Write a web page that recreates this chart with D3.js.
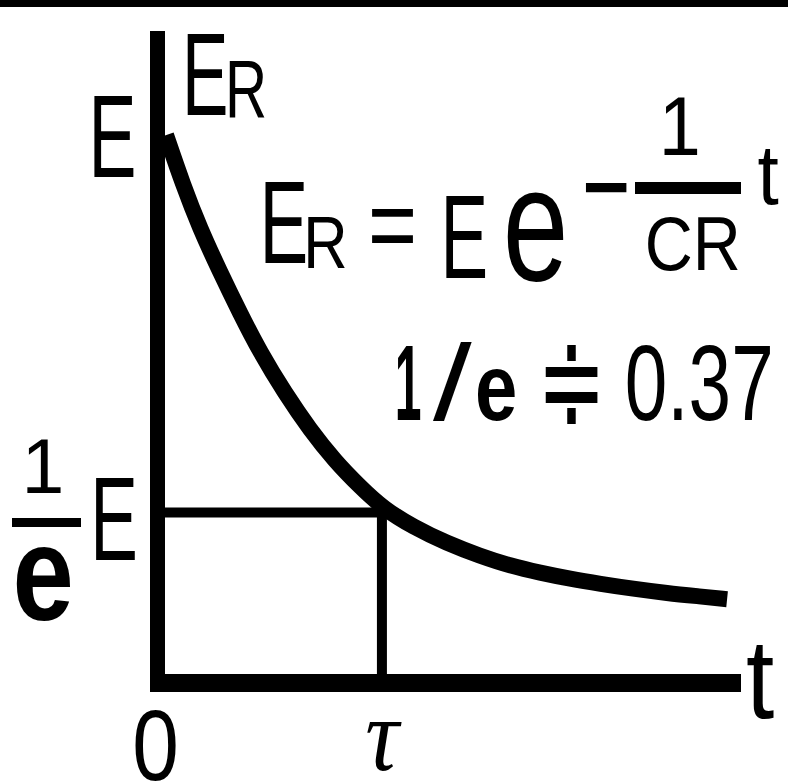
<!DOCTYPE html>
<html lang="en">
<head>
<meta charset="UTF-8">
<title>Capacitor discharge</title>
<script src="https://d3js.org/d3.v7.min.js"></script>
<style>
  body { margin: 0; background: #fff; }
  svg { display: block; }
  text { font-family: "Liberation Sans", Arial, sans-serif; fill: #000; }
</style>
</head>
<body>
<div id="chart"></div>
<script>
// curve: t in units of tau, E_R in units of E
const curveT = [0.038, 0.114, 0.189, 0.279, 0.368, 0.457, 0.568, 0.680, 0.791, 0.903, 1.005, 1.139, 1.290, 1.437, 1.571, 1.705, 1.839, 1.973, 2.119, 2.271, 2.418, 2.538];
const curveV = [1.000, 0.909, 0.830, 0.750, 0.675, 0.604, 0.529, 0.462, 0.405, 0.358, 0.319, 0.285, 0.255, 0.232, 0.214, 0.201, 0.190, 0.181, 0.172, 0.164, 0.158, 0.153];
const tauT = 1;        // t = tau
const levelV = 0.311;  // the (1/e)E guide, as drawn
const tMax = 2.6;
const vMax = 1.19;

const width = 788, height = 784;

const svg = d3.select("#chart")
  .append("svg")
  .attr("width", width)
  .attr("height", height);

const x = d3.scaleLinear().domain([0, tMax]).range([157.5, 741]);
const y = d3.scaleLinear().domain([0, vMax]).range([683, 31]);

// black band along the top edge
svg.append("rect").attr("x", 0).attr("y", 0).attr("width", width).attr("height", 7).attr("fill", "#000");

// the decay curve
const pts = curveT.map((t, i) => [t, curveV[i]]);
svg.append("path")
  .datum(pts)
  .attr("fill", "none")
  .attr("stroke", "#000")
  .attr("stroke-width", 16)
  .attr("stroke-linejoin", "round")
  .attr("d", d3.line().x(d => x(d[0])).y(d => y(d[1])).curve(d3.curveBasis));

// guide lines at t = tau and E_R = E/e
svg.append("line")
  .attr("x1", x(0)).attr("x2", x(tauT) + 5)
  .attr("y1", y(levelV)).attr("y2", y(levelV))
  .attr("stroke", "#000").attr("stroke-width", 10);
svg.append("line")
  .attr("x1", x(tauT)).attr("x2", x(tauT))
  .attr("y1", y(levelV) - 5).attr("y2", y(0))
  .attr("stroke", "#000").attr("stroke-width", 10);

// axes
svg.append("line")
  .attr("x1", x(0)).attr("x2", x(0))
  .attr("y1", y(vMax)).attr("y2", y(0) + 9)
  .attr("stroke", "#000").attr("stroke-width", 15);
svg.append("line")
  .attr("x1", x(0) - 7.5).attr("x2", x(tMax))
  .attr("y1", y(0)).attr("y2", y(0))
  .attr("stroke", "#000").attr("stroke-width", 18);

// text helper: narrow lettering is done with a horizontal scale
function label(str, tx, ty, size, sx, opts = {}) {
  const t = svg.append("text")
    .attr("transform", `translate(${tx},${ty}) scale(${sx},1)`)
    .attr("font-size", size)
    .text(str);
  if (opts.anchor) t.attr("text-anchor", opts.anchor);
  if (opts.weight) t.attr("font-weight", opts.weight);
  if (opts.family) t.style("font-family", opts.family);
  if (opts.italic) t.style("font-style", "italic");
  return t;
}

// axis title E_R
label("E", 182, 115, 116, 0.6);
label("R", 225, 117, 81, 0.72);

// E at the top of the value axis, (1/e)E at the guide
label("E", 88.5, y(1) + 42, 116, 0.62);
label("E", 90.3, y(levelV) + 47, 119, 0.6);
label("1", 21.6, 493, 77, 1.0);
svg.append("line")
  .attr("x1", 12).attr("x2", 81)
  .attr("y1", y(levelV) + 10).attr("y2", y(levelV) + 10)
  .attr("stroke", "#000").attr("stroke-width", 9);
label("e", 12.6, 620, 136, 0.81, { weight: "bold" });

// time labels
label("0", x(0) - 2, 780, 101, 0.83, { anchor: "middle" });
label("τ", x(tauT), 770, 104, 0.9, { anchor: "middle", family: "'Liberation Serif', serif", italic: true });
label("t", 746, 718, 113, 0.9);

// E_R = E e^(-t/CR)
label("E", 259.4, 263, 116, 0.63);
label("R", 303.2, 268, 74, 0.83);
label("=", 368, 261, 105, 0.8);
label("E", 440.4, 278, 119, 0.6);
label("e", 502.7, 280, 164, 0.72);
label("\u2212", 582, 231, 130, 0.64);
svg.append("line")
  .attr("x1", 635).attr("x2", 741)
  .attr("y1", 188).attr("y2", 188)
  .attr("stroke", "#000").attr("stroke-width", 12);
label("1", 658.8, 155, 84, 0.9);
label("CR", 644.7, 270, 76, 0.875);
label("t", 757.6, 204, 85, 0.9);

// 1/e ≑ 0.37
label("1", 394.7, 420, 107, 0.45, { weight: "bold" });
label("/", 433, 420, 107, 1.3);
label("e", 475, 420, 95, 0.8, { weight: "bold" });
label("\u2251", 571.5, 424, 127, 0.65, { anchor: "middle" });
label("0.37", 624.8, 420, 107, 0.715);
</script>
</body>
</html>
